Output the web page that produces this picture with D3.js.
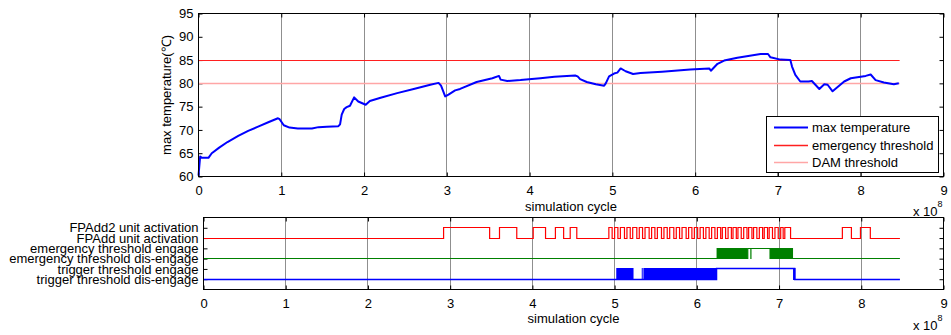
<!DOCTYPE html>
<html>
<head>
<meta charset="utf-8">
<script src="https://cdn.jsdelivr.net/npm/d3@7"></script>
<style>
  body { margin: 0; background: #fff; }
  svg text { font-family: "Liberation Sans", Arial, sans-serif; }
</style>
</head>
<body>
<svg id="chart" width="951" height="335"></svg>
<script>
// ---- data (simulation cycle in units of 1e8) ----
const cycleTicks = [0, 1, 2, 3, 4, 5, 6, 7, 8, 9];
const tempTicks = [60, 65, 70, 75, 80, 85, 90, 95];

const tempCycle = [0.00, 0.02, 0.04, 0.12, 0.16, 0.25, 0.35, 0.48, 0.60, 0.72, 0.85, 0.96, 0.98, 1.03, 1.10, 1.20,
  1.37, 1.45, 1.55, 1.69, 1.71, 1.73, 1.76, 1.79, 1.83, 1.88, 1.93, 2.02, 2.07, 2.20, 2.40, 2.60, 2.80, 2.90,
  2.93, 2.98, 3.02, 3.10, 3.16, 3.36, 3.55, 3.63, 3.65, 3.73, 3.89, 4.13, 4.30, 4.55, 4.58, 4.61, 4.69, 4.80,
  4.90, 4.92, 4.96, 5.02, 5.06, 5.10, 5.16, 5.25, 5.34, 5.60, 5.94, 6.17, 6.19, 6.27, 6.35, 6.51, 6.79, 6.88,
  6.91, 7.03, 7.15, 7.17, 7.21, 7.27, 7.37, 7.41, 7.50, 7.56, 7.60, 7.66, 7.80, 7.88, 8.06, 8.12, 8.18, 8.28,
  8.40, 8.46];
const maxTemp = [60.2, 64.3, 64.0, 64.0, 65.0, 66.2, 67.4, 68.7, 69.8, 70.7, 71.7, 72.5, 72.3, 71.0, 70.5, 70.3,
  70.3, 70.6, 70.7, 70.8, 71.2, 73.3, 74.5, 74.9, 75.2, 77.0, 76.1, 75.4, 76.2, 76.9, 77.9, 78.8, 79.7, 80.1,
  79.5, 77.2, 77.6, 78.5, 78.8, 80.3, 81.1, 81.6, 80.8, 80.5, 80.7, 81.1, 81.4, 81.7, 81.5, 80.9, 80.3, 79.8,
  79.5, 80.0, 81.5, 82.1, 82.3, 83.2, 82.6, 82.0, 82.2, 82.5, 83.0, 83.2, 82.7, 84.2, 84.9, 85.5, 86.3, 86.3,
  85.6, 85.1, 85.0, 83.6, 81.8, 80.4, 80.4, 80.5, 78.8, 79.8, 79.7, 78.3, 80.4, 81.1, 81.6, 81.9, 80.7, 80.2,
  79.8, 80.0];

const thresholdNames = ["emergency threshold", "DAM threshold"];
const thresholdValues = [85, 80];
const thresholdColors = ["#ff1f1f", "#ffa6a6"];
const runEnd = 8.47;

// signal rows, bottom to top
const signalLabels = ["trigger threshold dis-engage", "trigger threshold engage",
  "emergency threshold dis-engage", "emergency threshold engage",
  "FPAdd unit activation", "FPAdd2 unit activation"];
const signalLevels = [1, 2, 3, 4, 5, 6];

// intervals where FPAdd2 is active
const fpadd2Active = [[2.92, 3.48], [3.60, 3.81], [4.01, 4.16], [4.28, 4.38], [4.46, 4.54],
  [4.93, 4.97], [5.00, 5.04], [5.07, 5.12], [5.15, 5.19], [5.22, 5.27], [5.30, 5.34], [5.37, 5.42],
  [5.45, 5.49], [5.52, 5.57], [5.60, 5.64], [5.67, 5.72], [5.75, 5.79], [5.82, 5.87], [5.90, 5.94],
  [5.97, 6.01], [6.04, 6.08], [6.11, 6.15], [6.18, 6.22], [6.25, 6.29], [6.31, 6.35], [6.38, 6.42],
  [6.44, 6.48], [6.50, 6.54], [6.57, 6.61], [6.63, 6.67], [6.69, 6.73], [6.76, 6.80], [6.82, 6.86],
  [6.88, 6.92], [6.95, 6.99], [7.02, 7.05], [7.07, 7.14], [7.77, 7.88], [7.99, 8.11]];
// steady engaged intervals and rapid-toggle bursts
const emergencyEngaged = [[6.62, 6.89]];
const emergencyBursts = [[6.24, 6.62], [6.65, 6.665], [6.89, 7.17]];
const triggerEngaged = [[6.24, 7.19]];
const triggerBursts = [[5.02, 5.23], [5.33, 5.34], [5.35, 6.24], [7.17, 7.20]];

// ---- drawing ----
const svg = d3.select("#chart");
const FONT = 13;
const crisp = v => Math.round(v - 0.5) + 0.5;

function stepPoints(intervals, low, high) {
  const pts = [[0, low]];
  intervals.forEach(([s, e]) => { pts.push([s, high]); pts.push([e, low]); });
  pts.push([runEnd, low]);
  return pts;
}

function drawFrame(g, x, y, yTickValues, yFormat) {
  const [y0, y1] = y.range();
  g.append("g").selectAll("line")
    .data(cycleTicks.slice(1, -1))
    .join("line")
    .attr("x1", d => crisp(x(d))).attr("x2", d => crisp(x(d)))
    .attr("y1", y0).attr("y2", y1)
    .attr("stroke", "#8f8f8f").attr("stroke-width", 1);

  const styleAxis = a => {
    a.select(".domain").remove();
    a.selectAll("text").attr("font-size", FONT).attr("fill", "#000");
    a.attr("font-family", null).attr("font-size", FONT);
    a.selectAll("line").attr("stroke", "#000");
  };
  const [x0, x1] = x.range();
  g.append("g").attr("transform", `translate(0,${y0})`)
    .call(d3.axisBottom(x).tickValues(cycleTicks).tickSize(-4).tickPadding(9).tickFormat(d3.format("d")))
    .call(styleAxis);
  g.append("g").attr("transform", `translate(0,${y1})`)
    .call(d3.axisTop(x).tickValues(cycleTicks).tickSize(-4).tickFormat(""))
    .call(styleAxis);
  g.append("g").attr("transform", `translate(${x0},0)`)
    .call(d3.axisLeft(y).tickValues(yTickValues).tickSize(-4).tickPadding(5).tickFormat(yFormat))
    .call(styleAxis);
  g.append("g").attr("transform", `translate(${x1},0)`)
    .call(d3.axisRight(y).tickValues(yTickValues).tickSize(-4).tickFormat(""))
    .call(styleAxis);
}

function drawBox(g, x, y) {
  const [y0, y1] = y.range();
  const [x0, x1] = x.range();
  g.append("rect").attr("x", x0).attr("y", y1).attr("width", x1 - x0).attr("height", y0 - y1)
    .attr("fill", "none").attr("stroke", "#000").attr("stroke-width", 1);
}

function drawCaption(g, x, yLabel, yExp) {
  const [x0, x1] = x.range();
  g.append("text").attr("x", (x0 + x1) / 2).attr("y", yLabel)
    .attr("text-anchor", "middle").attr("font-size", FONT).text("simulation cycle");
  const t = g.append("text").attr("x", 913).attr("y", yExp).attr("font-size", FONT);
  t.append("tspan").text("x 10");
  t.append("tspan").attr("dy", -9).attr("font-size", 9).text("8");
}

// Top panel: maximum temperature
const xTop = d3.scaleLinear().domain([0, 9]).range([198.5, 943.5]);
const yTop = d3.scaleLinear().domain([60, 95]).range([176.5, 13.5]);
const tempPanel = svg.append("g");
drawFrame(tempPanel, xTop, yTop, tempTicks, d3.format("d"));

tempPanel.append("g").selectAll("line")
  .data(thresholdValues)
  .join("line")
  .attr("x1", xTop(0)).attr("x2", xTop(runEnd))
  .attr("y1", d => crisp(yTop(d))).attr("y2", d => crisp(yTop(d)))
  .attr("stroke", (d, i) => thresholdColors[i])
  .attr("stroke-width", (d, i) => i === 0 ? 1 : 1.6);

const tempLine = d3.line().x(d => xTop(d[0])).y(d => yTop(d[1]));
tempPanel.append("path")
  .datum(d3.zip(tempCycle, maxTemp))
  .attr("d", tempLine)
  .attr("fill", "none").attr("stroke", "#0000ff").attr("stroke-width", 2)
  .attr("stroke-linejoin", "round");

drawBox(tempPanel, xTop, yTop);

tempPanel.append("text")
  .attr("transform", `translate(171,${(yTop.range()[0] + yTop.range()[1]) / 2}) rotate(-90)`)
  .attr("text-anchor", "middle").attr("font-size", FONT)
  .text("max temperature(℃)");
drawCaption(tempPanel, xTop, 211, 216);

// legend
const legendNames = ["max temperature"].concat(thresholdNames);
const legendColors = ["#0000ff"].concat(thresholdColors);
const legend = tempPanel.append("g");
legend.append("rect").attr("x", 766.5).attr("y", 116.5).attr("width", 172).attr("height", 56)
  .attr("fill", "#fff").attr("stroke", "#000").attr("stroke-width", 1);
legendNames.forEach((name, i) => {
  const cy = crisp(127.7 + i * 17.3);
  legend.append("line").attr("x1", 774).attr("x2", 808).attr("y1", cy).attr("y2", cy)
    .attr("stroke", legendColors[i]).attr("stroke-width", i === 0 ? 2 : 1.3);
  legend.append("text").attr("x", 812).attr("y", cy + 4.6).attr("font-size", FONT).text(name);
});

// Bottom panel: unit and threshold signals
const xBot = d3.scaleLinear().domain([0, 9]).range([203.5, 943.5]);
const yBot = d3.scaleLinear().domain([0, 7]).range([289.5, 217.5]);
const signalPanel = svg.append("g");
drawFrame(signalPanel, xBot, yBot, signalLevels, d => signalLabels[d - 1]);

const stepLine = d3.line().curve(d3.curveStepAfter).x(d => xBot(d[0])).y(d => crisp(yBot(d[1])));
const signals = [
  { engaged: triggerEngaged, bursts: triggerBursts, low: 1, color: "#0000ff", width: 1.4 },
  { engaged: emergencyEngaged, bursts: emergencyBursts, low: 3, color: "#008000", width: 1.1 },
  { engaged: fpadd2Active, bursts: [], low: 5, color: "#ff0000", width: 1.2 }
];
signals.forEach(s => {
  signalPanel.append("path")
    .datum(stepPoints(s.engaged, s.low, s.low + 1))
    .attr("d", stepLine)
    .attr("fill", "none").attr("stroke", s.color).attr("stroke-width", s.width);
  signalPanel.append("g").selectAll("rect")
    .data(s.bursts)
    .join("rect")
    .attr("x", d => xBot(d[0]))
    .attr("width", d => Math.max(1, xBot(d[1]) - xBot(d[0])))
    .attr("y", crisp(yBot(s.low + 1)) - 0.5)
    .attr("height", crisp(yBot(s.low)) - crisp(yBot(s.low + 1)) + 1)
    .attr("fill", s.color);
});

drawBox(signalPanel, xBot, yBot);
drawCaption(signalPanel, xBot, 323, 330);
</script>
</body>
</html>
